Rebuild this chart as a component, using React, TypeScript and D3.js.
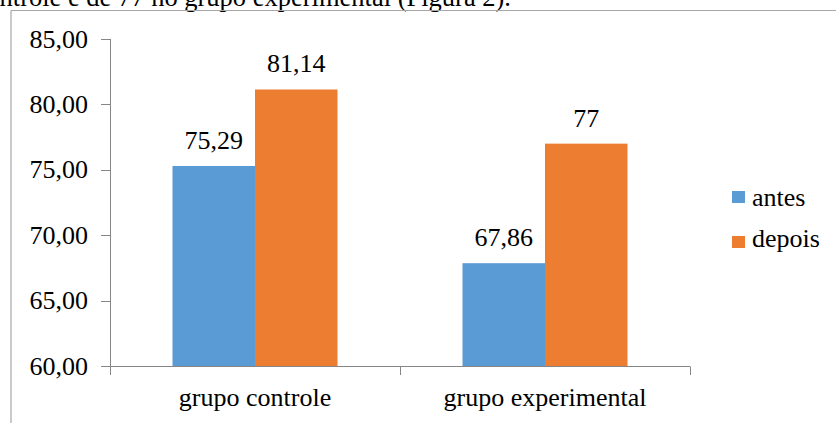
import React from "react";
import * as d3 from "d3";

const categories = ["grupo controle", "grupo experimental"];
const seriesNames = ["antes", "depois"];
const antes = [75.29, 67.86];
const depois = [81.14, 77];
const valueLabels = [["75,29", "67,86"], ["81,14", "77"]];
const yTicks = [60, 65, 70, 75, 80, 85];
const colors = ["#5B9BD5", "#ED7D31"];
const captionText = "ntrole e de 77 no grupo experimental (Figura 2).";

const W = 836;
const H = 423;
const FONT = '"Liberation Serif"';
const FS = 26;

export default function App() {
  const series = [antes, depois];
  const y = d3.scaleLinear().domain([60, 85]).range([366, 39]);
  const x = d3.scaleBand<string>().domain(categories).range([110, 690]).paddingInner(0).paddingOuter(0);
  const groupW = x.bandwidth() * 0.569;
  const xs = d3.scaleBand<string>().domain(seriesNames).range([0, groupW]);
  const axisColor = "#868686";
  const fmt = (v: number) => d3.format(".2f")(v).replace(".", ",");
  const ts: React.CSSProperties = { fontFamily: FONT };

  return (
    <svg width={W} height={H} style={{ position: "absolute", left: 0, top: 0, background: "#fff" }}>
      <text x={511} y={6} fontSize={26.5} textAnchor="end" fill="#000" style={ts}>{captionText}</text>
      {/* chart border */}
      <line x1={11} y1={10.5} x2={W + 5} y2={10.5} stroke="#a6a6a6" strokeWidth={1.2} />
      <line x1={11} y1={10.5} x2={11} y2={H + 5} stroke="#a6a6a6" strokeWidth={1.2} />

      {/* y axis */}
      <line x1={110.5} y1={y(85)} x2={110.5} y2={y(60)} stroke={axisColor} />
      {yTicks.map((t) => (
        <g key={t}>
          <line x1={101} x2={110.5} y1={Math.round(y(t)) + 0.5} y2={Math.round(y(t)) + 0.5} stroke={axisColor} />
          <text x={88} y={y(t)} dy="0.33em" fontSize={FS} textAnchor="end" fill="#000" style={ts}>{fmt(t)}</text>
        </g>
      ))}

      {/* bars */}
      {categories.map((c, ci) => {
        const x0 = (x(c) as number) + (x.bandwidth() - groupW) / 2;
        return (
          <g key={c}>
            {seriesNames.map((s, si) => {
              const v = series[si][ci];
              const bx = x0 + (xs(s) as number);
              return (
                <g key={s}>
                  <rect x={bx} y={y(v)} width={xs.bandwidth()} height={y(60) - y(v)} fill={colors[si]} />
                  <text x={bx + xs.bandwidth() / 2} y={y(v) - 17} fontSize={FS} textAnchor="middle" fill="#000" style={ts}>
                    {valueLabels[si][ci]}
                  </text>
                </g>
              );
            })}
          </g>
        );
      })}

      {/* x axis */}
      <line x1={110} x2={690} y1={366.5} y2={366.5} stroke={axisColor} />
      {[...categories.map((c) => x(c) as number), 690].map((p, i) => (
        <line key={i} x1={Math.round(p) + 0.5} x2={Math.round(p) + 0.5} y1={366.5} y2={375} stroke={axisColor} />
      ))}
      {categories.map((c) => (
        <text key={c} x={(x(c) as number) + x.bandwidth() / 2} y={406} fontSize={FS} textAnchor="middle" fill="#000" style={ts}>{c}</text>
      ))}

      {/* legend */}
      {seriesNames.map((s, i) => (
        <g key={s}>
          <rect x={732} y={191 + i * 45} width={13} height={12} fill={colors[i]} />
          <text x={752} y={206 + i * 41} fontSize={FS} fill="#000" style={ts}>{s}</text>
        </g>
      ))}
    </svg>
  );
}
